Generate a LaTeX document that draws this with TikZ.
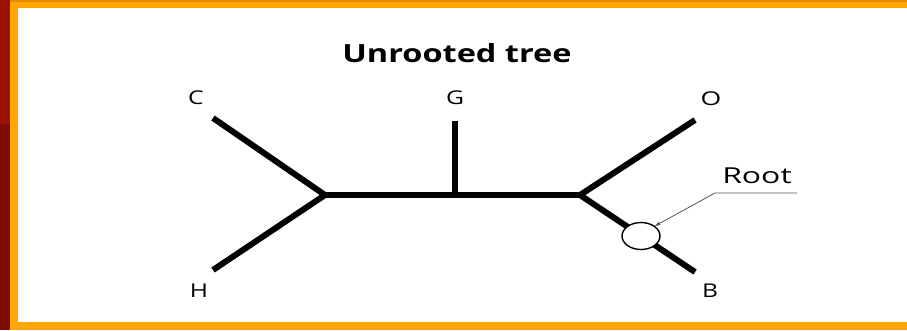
\documentclass[tikz,border=0pt]{standalone}
\usepackage{fontspec}
\setmainfont{Open Sans}
\usetikzlibrary{arrows.meta,shapes.geometric}
\definecolor{frameorange}{HTML}{FFA600}
\definecolor{frameedge}{HTML}{E58A00}
\definecolor{barred}{HTML}{9A1400}
\definecolor{bardark}{HTML}{7E0A00}
\definecolor{pointer}{HTML}{555555}
% wide lettering used for all labels
\newcommand{\widetext}[2]{\scalebox{#1}[1]{#2}}
\tikzset{
  branch/.style={line width=6pt, line join=round},
  leaflabel/.style={font=\fontsize{19}{19}\selectfont, inner sep=0pt},
  rootmark/.style={ellipse, draw=black, line width=1.4pt, fill=white,
    minimum width=38pt, minimum height=27pt, inner sep=0pt},
  callout/.style={draw=pointer, line width=0.8pt}
}
\begin{document}
\begin{tikzpicture}[x=1pt,y=-1pt]
  % page background and frame
  \useasboundingbox (0,0) rectangle (907,330);
  \fill[barred] (0,0) rectangle (10,124);
  \fill[bardark] (0,124) rectangle (10,330);
  \fill[frameorange] (10,0) rectangle (907,330);
  \fill[frameedge] (10,0) rectangle (907,2);
  \fill[white] (18,8) rectangle (907,322);

  % title
  \node[font=\fontsize{25}{25}\selectfont\bfseries, inner sep=0pt] (title) at (457,53) {\widetext{1.3}{Unrooted tree}};

  % tree vertices
  \coordinate (L) at (325,195);
  \coordinate (R) at (580,195);
  \coordinate (Gj) at (455,195);
  \coordinate (Cend) at (213,118);
  \coordinate (Hend) at (213,270);
  \coordinate (Gend) at (455,121);
  \coordinate (Oend) at (695,120);
  \coordinate (Bend) at (695,272);

  % branches
  \draw[branch] (Cend) -- (L) -- (Hend);
  \draw[branch] (L) -- (R);
  \draw[branch] (Gend) -- (Gj);
  \draw[branch] (Oend) -- (R) -- (Bend);

  % root position on the B branch
  \node[rootmark] (root) at (641,236) {};

  % leaf labels
  \node[leaflabel] (C) at (196,98) {\widetext{1.3}{C}};
  \node[leaflabel] (H) at (199,291) {\widetext{1.3}{H}};
  \node[leaflabel] (G) at (455,98) {\widetext{1.3}{G}};
  \node[leaflabel] (O) at (711,98.5) {\widetext{1.4}{O}};
  \node[leaflabel] (B) at (710,290.5) {\widetext{1.3}{B}};

  % root callout
  \node[font=\fontsize{22}{22}\selectfont, inner sep=0pt] (rootlabel) at (757,176) {\widetext{1.45}{Root}};
  \coordinate (calloutend) at (797,193);
  \coordinate (calloutknee) at (715,193);
  \draw[callout, -{Stealth[length=6pt,width=4pt]}] (calloutend) -- (calloutknee) -- (root.north east);
\end{tikzpicture}
\end{document}
